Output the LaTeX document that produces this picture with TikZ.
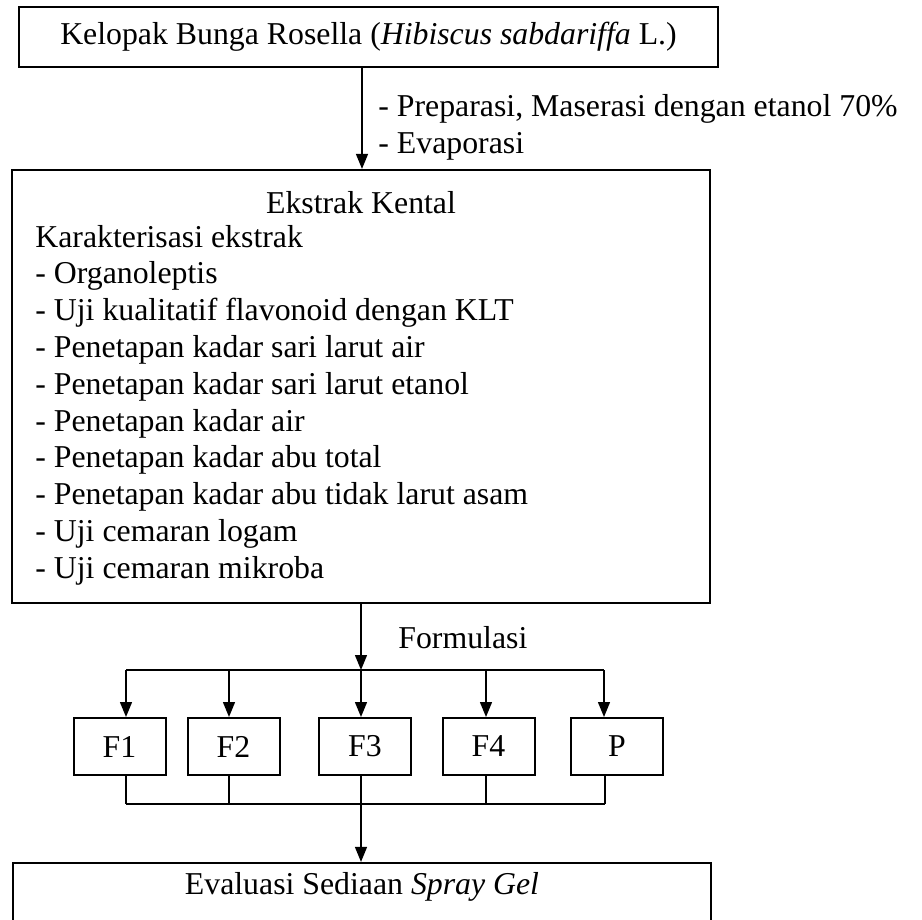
\documentclass[tikz,border=0pt]{standalone}
\usepackage{fontspec}
\setmainfont{Liberation Serif}
\usetikzlibrary{arrows.meta}
\begin{document}
\begin{tikzpicture}[x=0.5pt,y=-0.5pt,>={Triangle[length=7.5pt,width=6pt]},
  box/.style={draw,line width=1.1pt,inner sep=0pt},
  fbox/.style={draw,line width=1pt,minimum width=46pt,minimum height=28.5pt,inner sep=0pt},
  link/.style={line width=0.7pt},
  every node/.style={font=\fontsize{15.9}{18.4}\selectfont}]
\useasboundingbox (0,0) rectangle (922,920);
%%
\node (node_top) at (368.5,37) [box,minimum width=349.5pt,minimum height=30pt] {Kelopak Bunga Rosella (\textit{Hibiscus sabdariffa} L.)};
  \node (node_ekstrak) at (361,386.5) [box,minimum width=349pt,minimum height=216.5pt] {};
  \node (node_judul) at (361,203) {Ekstrak Kental};
  \node (node_daftar) at (35,405) [anchor=west,align=left,inner sep=0pt] {Karakterisasi ekstrak\\
    - Organoleptis\\
    - Uji kualitatif flavonoid dengan KLT\\
    - Penetapan kadar sari larut air\\
    - Penetapan kadar sari larut etanol\\
    - Penetapan kadar air\\
    - Penetapan kadar abu total\\
    - Penetapan kadar abu tidak larut asam\\
    - Uji cemaran logam\\
    - Uji cemaran mikroba};
  \node (node_proses) at (378,127) [anchor=west,align=left,inner sep=0pt] {- Preparasi, Maserasi dengan etanol 70\%\\- Evaporasi};
  \node (node_formulasi) at (398,638) [anchor=west,inner sep=0pt] {Formulasi};
  \node (node_f1) at (119.5,746.5) [fbox] {F1};
  \node (node_f2) at (233.5,746.5) [fbox] {F2};
  \node (node_f3) at (365,746.5) [fbox] {F3};
  \node (node_f4) at (488.5,746.5) [fbox] {F4};
  \node (node_p) at (617,746.5) [fbox] {P};
  \node (node_evaluasi) at (362,899) [box,minimum width=349pt,minimum height=36pt] {};
  \node (node_evaluasi_teks) at (362,887) {Evaluasi Sediaan \textit{Spray Gel}};
%
  \coordinate (sumbu) at (362,0);
  \coordinate (atas_f1) at (126,670);
  \coordinate (atas_f2) at (229,670);
  \coordinate (atas_f3) at (361,670);
  \coordinate (atas_f4) at (486,670);
  \coordinate (atas_p) at (604,670);
  \coordinate (bawah_f1) at (126,804);
  \coordinate (bawah_f2) at (229,804);
  \coordinate (bawah_f3) at (361,804);
  \coordinate (bawah_f4) at (486,804);
  \coordinate (bawah_p) at (605,804);
%
  \draw [link,->] (node_top.south -| sumbu) -- (node_ekstrak.north -| sumbu);
  \draw [link,->] (node_ekstrak.south -| atas_f3) -- (atas_f3);
  \draw [link] (atas_f1) -- (atas_p);
  \foreach \n in {f1,f2,f3,f4,p}
    \draw [link,->] (atas_\n) -- (node_\n.north -| atas_\n);
  \foreach \n in {f1,f2,f3,f4,p}
    \draw [link] (node_\n.south -| bawah_\n) -- (bawah_\n);
  \draw [link] (bawah_f1) -- (bawah_p);
  \draw [link,->] (bawah_f3) -- (node_evaluasi.north -| bawah_f3);
%
\end{tikzpicture}
\end{document}
